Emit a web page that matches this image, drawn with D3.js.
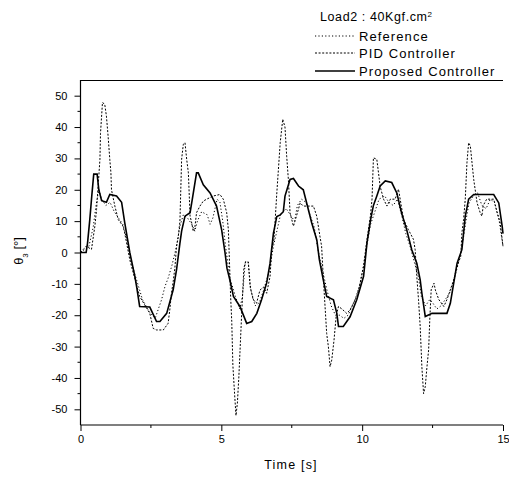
<!DOCTYPE html>
<html><head><meta charset="utf-8">
<script src="https://cdn.jsdelivr.net/npm/d3@7"></script>
<style>
body{margin:0;background:#fff;}
text{font-family:"Liberation Sans",Arial,sans-serif;fill:#000;}
</style></head>
<body><svg id="c" width="509" height="477"></svg>
<script>
// ---- data ----
const xTicks = [0, 5, 10, 15];
const yTicks = [-50, -40, -30, -20, -10, 0, 10, 20, 30, 40, 50];
const seriesNames = ["Reference", "PID Controller", "Proposed Controller"];

const refT = [0,0.3,0.45,0.55,0.65,0.75,0.9,1.05,1.2,1.35,1.5,1.65,1.8,2.0,2.2,2.45,2.65,2.88,3.0,3.11,3.25,3.41,3.47,3.53,3.65,3.8,3.95,4.06,4.15,4.3,4.5,4.6,4.7,4.85,4.95,5.05,5.15,5.3,5.5,5.65,5.75,5.85,5.95,6.05,6.2,6.35,6.5,6.7,6.85,7.0,7.1,7.3,7.45,7.6,7.7,7.85,8.0,8.15,8.3,8.45,8.6,8.75,8.9,9.05,9.2,9.35,9.5,9.7,9.9,10.05,10.2,10.3,10.45,10.6,10.8,10.95,11.1,11.25,11.4,11.55,11.7,11.85,12.0,12.1,12.25,12.4,12.5,12.65,12.8,12.95,13.1,13.25,13.4,13.5,13.6,13.7,13.8,13.95,14.1,14.25,14.4,14.55,14.7,14.85,14.95,15];
const refV = [0,2,8,15,20,17,15,16,13,11,9,4,-3,-9,-15,-19,-21,-15,-10.8,-8.2,-4,2,5.2,8.4,12,11,9,6.8,10,13,12,9,11,17,16,10,2,-8,-14,-18,-14,-3,-3,-12,-17,-16,-12,-6,2,8,12,14,12,10,15,17,16,12,8,0,-6,-12,-17,-20,-20,-21,-20,-16,-11,-4,4,9,13,17,18,16,15,17,12,6,2,-3,-8,-14,-17,-15,-16,-18,-17,-15,-13,-9,-4,0,5,11,16,18,19,15,14,17,16,11,5,2];

const pidT = [0,0.1,0.2,0.39,0.51,0.57,0.69,0.71,0.78,0.86,0.92,0.98,1.04,1.08,1.1,1.22,1.34,1.51,1.57,1.75,1.81,1.95,2.1,2.3,2.46,2.58,2.7,2.94,3.11,3.17,3.23,3.29,3.35,3.41,3.47,3.53,3.59,3.65,3.71,3.77,3.83,3.89,3.95,4.0,4.06,4.12,4.24,4.36,4.48,4.71,4.95,5.07,5.19,5.25,5.33,5.37,5.41,5.47,5.52,5.57,5.62,5.66,5.72,5.8,5.86,5.96,6.02,6.13,6.25,6.37,6.5,6.61,6.73,6.79,6.87,6.97,7.09,7.18,7.26,7.32,7.38,7.44,7.56,7.68,7.8,7.91,8.15,8.27,8.39,8.5,8.56,8.62,8.69,8.74,8.8,8.86,8.92,9.0,9.08,9.16,9.28,9.45,9.57,9.69,9.81,9.93,10.05,10.17,10.29,10.35,10.4,10.52,10.58,10.64,10.76,10.88,11.0,11.17,11.29,11.47,11.64,11.82,11.88,11.94,12.0,12.06,12.12,12.18,12.24,12.3,12.36,12.4,12.45,12.55,12.6,12.72,12.9,13.01,13.13,13.25,13.37,13.5,13.54,13.6,13.66,13.72,13.78,13.84,13.9,13.96,14.08,14.19,14.25,14.3,14.42,14.67,14.79,14.9,15];
const pidV = [0,1,2,1,8.4,13.7,29.7,38,47.8,47.3,43.5,37.1,29.7,25.4,20,14.8,10.5,8.4,6.2,-2.3,-4.4,-9,-14,-17,-19.4,-24.2,-24.7,-24.7,-22.6,-18.3,-13,-9.3,-5,2,5,10,29.7,34.5,35,29.7,25.4,11.6,9.4,6.8,8,12.7,14.8,16.4,17,18,18.5,17,12.7,7.3,-14,-22,-36,-45,-52,-48,-40,-32,-20,-5,-3,-3,-10.8,-15,-16.2,-12,-11,-13,-7.6,1,4.2,19,35,42.5,40,30.7,23.3,12.6,8.4,12,15.8,14.8,14.8,14.8,11.5,5.2,2,-8,-18.3,-25.8,-30,-36.4,-34.3,-28,-20,-17.2,-18,-19.4,-18.3,-16.2,-14,-9.7,-4.4,4.2,11.5,17,30.2,29.7,25.4,21,17,14.8,17,17,20.2,10.5,7.3,4.2,1,-7.6,-15,-23.6,-36.5,-45,-42.8,-36.5,-31,-21.5,-11.9,-9.8,-12,-15,-17.2,-15,-11.9,-8.7,-4.4,-1.2,6.2,10.5,17,28.6,35,34,28.6,23.3,15.8,12.7,11.6,15,17,17,12.7,9.4,2];

const propT = [0,0.2,0.25,0.33,0.4,0.47,0.59,0.65,0.75,0.92,1.04,1.28,1.46,1.57,1.75,1.93,2.0,2.1,2.46,2.7,2.82,3.06,3.29,3.41,3.53,3.59,3.71,3.89,3.97,4.12,4.18,4.36,4.6,4.83,5.01,5.13,5.2,5.31,5.43,5.66,5.78,5.9,6.08,6.26,6.43,6.61,6.73,6.85,6.97,7.09,7.2,7.26,7.44,7.56,7.74,7.91,8.03,8.21,8.39,8.48,8.62,8.74,8.98,9.1,9.16,9.33,9.57,9.81,10.05,10.17,10.3,10.4,10.52,10.64,10.82,11.05,11.23,11.4,11.58,11.76,11.94,12.06,12.12,12.24,12.48,13.01,13.13,13.25,13.37,13.54,13.6,13.66,13.78,13.96,14.67,14.85,14.97,15];
const propV = [0,0,3,10.5,18,25,25,20,16.5,16,18.5,18,16,9.5,0,-7.6,-11.3,-17.2,-17.4,-22,-22,-19.4,-11.9,-5.5,3,6.8,11.6,12.7,17,25.4,25.4,21.6,19,14.8,7.3,0,-5,-9,-14,-17.2,-19.9,-22.6,-22,-19.4,-15,-9.7,-3.4,6.2,11.5,12,13,18,23.3,23.6,21.2,20,15.8,9.4,4,-2.3,-8.7,-14,-15.1,-19.4,-23.6,-23.6,-20.5,-15,-7.6,3,10.5,15,18,21.2,22.8,22.3,19,12.6,7.3,0.9,-3.4,-8.7,-13,-20.4,-19.4,-19.4,-16.2,-9.8,-3.4,0.9,6.2,11.5,17,18.5,18.5,15.8,8.4,6];

// ---- layout ----
const svg = d3.select("#c");
const mLeft = 80.5, mRight = 503, mTop = 80, mBottom = 425;
const x = d3.scaleLinear().domain([0, 15]).range([mLeft, mRight]);
const y = d3.scaleLinear().domain([-55, 55]).range([mBottom, mTop]);

// top frame line
svg.append("line").attr("x1", mLeft).attr("x2", mRight).attr("y1", mTop + 0.5).attr("y2", mTop + 0.5)
  .attr("stroke", "#000").attr("stroke-width", 1.2);

// axes
const xAxis = d3.axisBottom(x).tickValues(xTicks).tickSize(6).tickSizeOuter(0).tickPadding(4);
const gx = svg.append("g").attr("transform", `translate(0,${mBottom})`).call(xAxis);
const yAxis = d3.axisLeft(y).tickValues(yTicks).tickSize(6).tickSizeOuter(0).tickPadding(7)
  .tickFormat(d => d < 0 ? "-" + Math.abs(d) : String(d));
const gy = svg.append("g").attr("transform", `translate(${mLeft},0)`).call(yAxis);
[gx, gy].forEach(g => {
  g.select(".domain").attr("stroke", "#000").attr("stroke-width", 1.2);
  g.selectAll(".tick line").attr("stroke", "#000");
  g.selectAll(".tick text").style("font-size", "11px").style("font-family", "'Liberation Sans',Arial,sans-serif");
});
gx.select(".domain").attr("d", `M${mLeft},0H${mRight}`);
gy.select(".domain").attr("d", `M0,${mTop}V${mBottom}`);

// minor ticks
const xMinor = [2.5, 7.5, 12.5];
svg.append("g").selectAll("line").data(xMinor).join("line")
  .attr("x1", d => x(d)).attr("x2", d => x(d)).attr("y1", mBottom).attr("y2", mBottom + 3).attr("stroke", "#000");
const yMinor = [-45, -35, -25, -15, -5, 5, 15, 25, 35, 45];
svg.append("g").selectAll("line").data(yMinor).join("line")
  .attr("x1", mLeft - 3).attr("x2", mLeft).attr("y1", d => y(d)).attr("y2", d => y(d)).attr("stroke", "#000");

// lines
const line = d3.line().x(d => x(d[0])).y(d => y(d[1]));
const series = [
  {t: refT, v: refV, dash: "1.2,2.2", w: 1},
  {t: pidT, v: pidV, dash: "2,1.6", w: 1},
  {t: propT, v: propV, dash: null, w: 1.6}
];
series.forEach((s, i) => {
  const pts = d3.zip(s.t, s.v);
  svg.append("path").datum(pts).attr("d", line).attr("fill", "none")
    .attr("stroke", "#000").attr("stroke-width", s.w)
    .attr("stroke-dasharray", s.dash);
});

// axis titles
svg.append("text").attr("x", 291).attr("y", 469).attr("text-anchor", "middle")
  .style("font-size", "12.5px").style("letter-spacing", "1.2px").text("Time [s]");
const yl = svg.append("text").attr("transform", "translate(23,251) rotate(-90)").attr("text-anchor", "middle")
  .style("font-size", "13px");
yl.append("tspan").text("θ");
yl.append("tspan").attr("baseline-shift", "sub").style("font-size", "8px").text("3");
yl.append("tspan").text(" [°]");

// legend
const lg = svg.append("g");
const title = lg.append("text").attr("x", 320).attr("y", 21).style("font-size", "12.5px")
  .style("letter-spacing", "0.6px");
title.append("tspan").text("Load2 : 40Kgf.cm");
title.append("tspan").attr("baseline-shift", "super").style("font-size", "8px").text("2");
const rowsY = [36, 53, 71];
series.forEach((s, i) => {
  lg.append("line").attr("x1", 315).attr("x2", 355).attr("y1", rowsY[i]).attr("y2", rowsY[i])
    .attr("stroke", "#000").attr("stroke-width", s.w).attr("stroke-dasharray", s.dash);
  lg.append("text").attr("x", 359).attr("y", rowsY[i] + 4.5).style("font-size", "13px")
    .style("letter-spacing", "1.1px").text(seriesNames[i]);
});
</script></body></html>
